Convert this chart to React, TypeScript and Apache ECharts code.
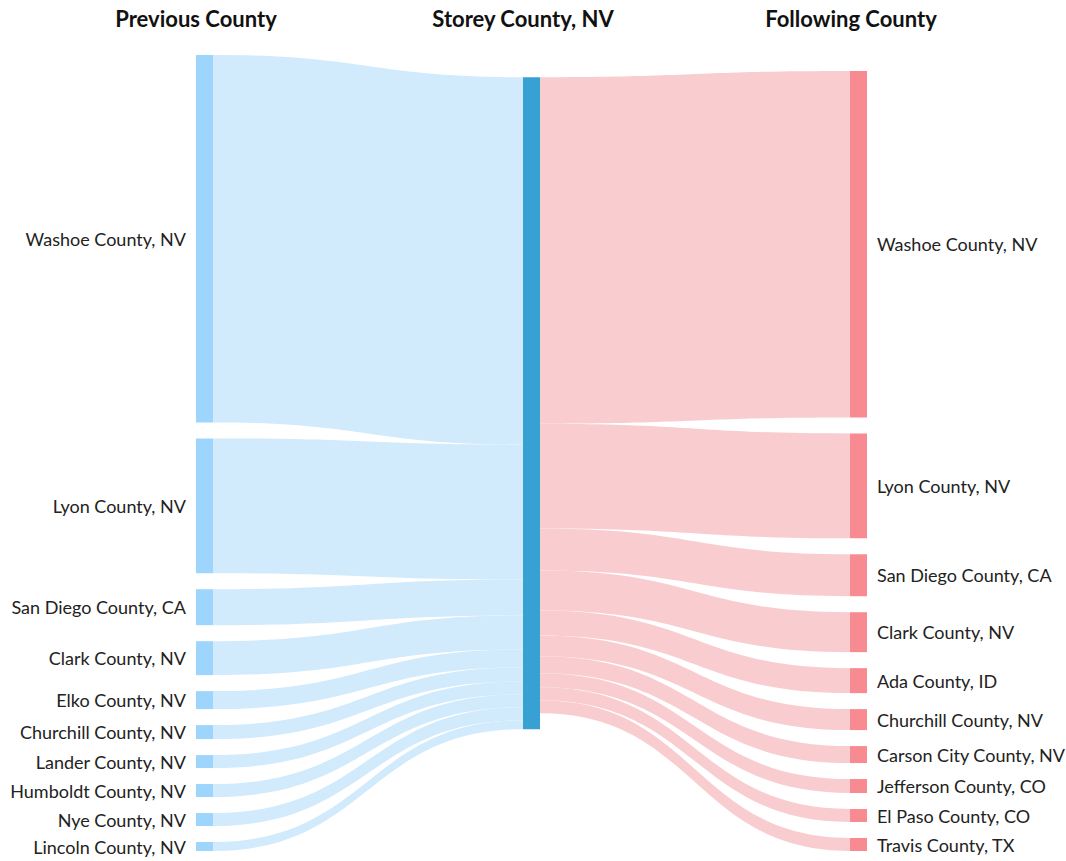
import React, { useEffect, useRef } from "react";
import * as echarts from "echarts";

const previousCounties = [
  "Washoe County, NV",
  "Lyon County, NV",
  "San Diego County, CA",
  "Clark County, NV",
  "Elko County, NV",
  "Churchill County, NV",
  "Lander County, NV",
  "Humboldt County, NV",
  "Nye County, NV",
  "Lincoln County, NV",
];
const previousValues = [368, 135, 36, 34, 18, 14, 13, 13, 13, 9];

const centerCounty = "Storey County, NV";

const followingCounties = [
  "Washoe County, NV",
  "Lyon County, NV",
  "San Diego County, CA",
  "Clark County, NV",
  "Ada County, ID",
  "Churchill County, NV",
  "Carson City County, NV",
  "Jefferson County, CO",
  "El Paso County, CO",
  "Travis County, TX",
];
const followingValues = [347, 105, 42, 40, 25, 21, 17, 14, 13, 13];

const columnTitles = ["Previous County", "Storey County, NV", "Following County"];

const COLORS = {
  prevNode: "#9dd5fd",
  prevLink: "#d1eafc",
  center: "#38a1d3",
  nextNode: "#f88a91",
  nextLink: "#f9cdcf",
  text: "#222222",
};

export default function App() {
  const ref = useRef<HTMLDivElement>(null);

  useEffect(() => {
    document.body.style.margin = "0";
    if (!ref.current) return;
    const chart = echarts.init(ref.current, undefined, { renderer: "svg" });

    const nodes: any[] = [];
    const links: any[] = [];
    previousCounties.forEach((c) => {
      nodes.push({
        name: "prev|" + c,
        itemStyle: { color: COLORS.prevNode },
        label: { formatter: c, position: "left" },
      });
    });
    nodes.push({
      name: "center|" + centerCounty,
      itemStyle: { color: COLORS.center },
      label: { show: false },
    });
    followingCounties.forEach((c) => {
      nodes.push({
        name: "next|" + c,
        itemStyle: { color: COLORS.nextNode },
        label: { formatter: c, position: "right" },
      });
    });
    previousCounties.forEach((c, i) => {
      links.push({
        source: "prev|" + c,
        target: "center|" + centerCounty,
        value: previousValues[i],
        lineStyle: { color: COLORS.prevLink, opacity: 1 },
      });
    });
    followingCounties.forEach((c, i) => {
      links.push({
        source: "center|" + centerCounty,
        target: "next|" + c,
        value: followingValues[i],
        lineStyle: { color: COLORS.nextLink, opacity: 1 },
      });
    });

    const titleX = [196, 523, 851];

    chart.setOption({
      animation: false,
      graphic: columnTitles.map((t, i) => ({
        type: "text",
        x: titleX[i],
        y: 18,
        style: {
          text: t,
          fontFamily: "Lato",
          fontWeight: "bold",
          fontSize: 22,
          fill: "#111111",
          textAlign: "center",
          textVerticalAlign: "middle",
        },
      })),
      series: [
        {
          type: "sankey",
          left: 196,
          right: 199,
          top: 55,
          bottom: 10,
          nodeWidth: 17,
          nodeGap: 16,
          layoutIterations: 32,
          draggable: false,
          emphasis: { disabled: true },
          label: {
            fontFamily: "Lato",
            fontSize: 18,
            color: COLORS.text,
            distance: 10,
          },
          lineStyle: { curveness: 0.5, opacity: 1 },
          itemStyle: { borderWidth: 0 },
          data: nodes,
          links: links,
        },
      ],
    });

    return () => chart.dispose();
  }, []);

  return <div ref={ref} style={{ width: 1066, height: 861 }} />;
}
